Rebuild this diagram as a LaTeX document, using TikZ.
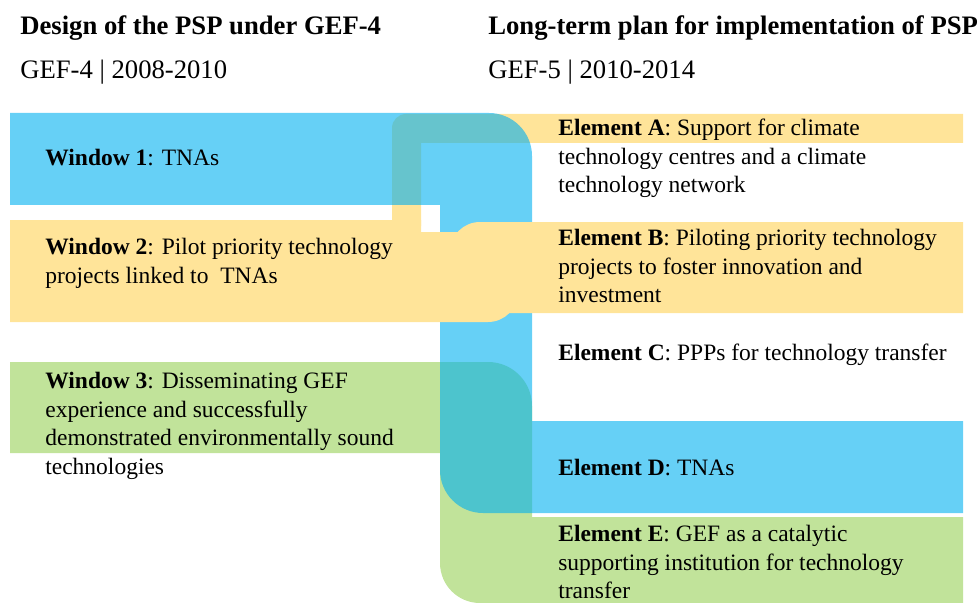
\documentclass[tikz,border=0pt]{standalone}
\usepackage{fontspec}
\setmainfont{Liberation Serif}
\usepackage{xcolor}
\definecolor{psp-blue}{HTML}{00B0F0}
\definecolor{psp-yellow}{HTML}{FFE499}
\definecolor{psp-green}{HTML}{C1E39A}
\tikzset{
    band-blue/.style = {fill=psp-blue, fill opacity=0.6},
    band-yellow/.style = {fill=psp-yellow},
    band-green/.style = {fill=psp-green},
    item-text/.style = {anchor=north west, inner sep=0pt, align=left, font=\fontsize{14.1}{17.1}\selectfont},
    head-text/.style = {anchor=west, inner sep=0pt, font=\fontsize{16}{18}\selectfont\bfseries},
    sub-text/.style = {anchor=west, inner sep=0pt, font=\fontsize{16}{18}\selectfont},
}

\begin{document}
\begin{tikzpicture}[x=0.6pt, y=-0.6pt]
\useasboundingbox (0,0) rectangle (979,603);

% yellow strip up to Element A
\fill[band-yellow] (963,114) -- (406,114) .. controls (398.3,114) and (392,120.3) .. (392,128)
    -- (392,226) -- (421,226) -- (421,143) -- (963,143) -- cycle;
% green: Window 3 to Element E
\fill[band-green] (10,362) -- (488,362) .. controls (512.3,362) and (532,381.7) .. (532,406)
    -- (532,517) -- (963,517) -- (963,603) -- (480,603) .. controls (457.9,603) and (440,585.1) .. (440,563)
    -- (440,453) -- (10,453) -- cycle;
% blue: Window 1 to Element D
\fill[band-blue] (10,113) -- (489,113) .. controls (512.7,113) and (532,132.3) .. (532,156)
    -- (532,421) -- (963,421) -- (963,513) -- (483,513) .. controls (459.3,513) and (440,493.7) .. (440,470)
    -- (440,205) -- (10,205) -- cycle;
% yellow: Window 2 to Element B
\fill[band-yellow] (963,222) -- (480,222) .. controls (463.4,222) and (450,235.4) .. (450,252)
    -- (450,313) -- (963,313) -- cycle;
\fill[band-yellow] (10,220) -- (421,220) -- (421,232) -- (518,232) -- (518,292)
    .. controls (518,308.6) and (504.6,322) .. (488,322) -- (10,322) -- cycle;

% headings
\node[head-text] (head-l) at (20,28) {Design of the PSP under GEF-4};
\node[sub-text] (sub-l) at (20,72) {GEF-4 | 2008-2010};
\node[head-text] (head-r) at (488,28) {Long-term plan for implementation of PSP};
\node[sub-text] (sub-r) at (488,72) {GEF-5 | 2010-2014};

% windows
\node[item-text] (win-1) at (45,149) {\textbf{Window 1}: TNAs};
\node[item-text] (win-2) at (45,238) {\textbf{Window 2}: Pilot priority technology\\projects linked to\enspace TNAs};
\node[item-text] (win-3) at (45,372) {\textbf{Window 3}: Disseminating GEF\\experience and successfully\\demonstrated environmentally sound\\technologies};

% elements
\node[item-text] (elem-a) at (558,119) {\textbf{Element A}: Support for climate\\technology centres and a climate\\technology network};
\node[item-text] (elem-b) at (558,229) {\textbf{Element B}: Piloting priority technology\\projects to foster innovation and\\investment};
\node[item-text] (elem-c) at (558,344) {\textbf{Element C}: PPPs for technology transfer};
\node[item-text] (elem-d) at (558,459) {\textbf{Element D}: TNAs};
\node[item-text] (elem-e) at (558,525) {\textbf{Element E}: GEF as a catalytic\\supporting institution for technology\\transfer};
\end{tikzpicture}
\end{document}
